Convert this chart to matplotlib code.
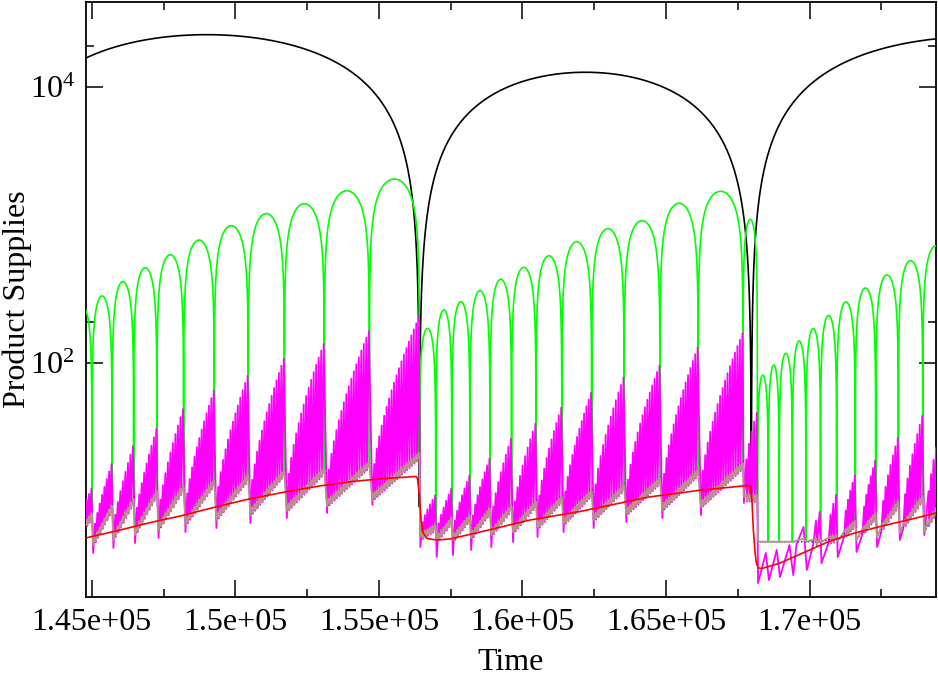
import numpy as np
import matplotlib
matplotlib.use("Agg")
import matplotlib.pyplot as plt
from matplotlib.ticker import FixedLocator, NullFormatter

# ---------------- data ----------------
# black curve: three arches, each given by its two zero-crossing times, its peak
# value, and the lowest value reached at the dip that ends it
black_arch_start_t = [141600, 156410, 167970]
black_arch_end_t = [156410, 167970, 183890]
black_arch_peak_v = [24060, 12850, 23300]
black_dip_floor_v = [9.07, 11.1, 11.1]

# red curve (time, value)
red_t = [144790, 145990, 147120, 148080, 149440, 150510, 151770, 152950, 154090, 155210,
         156290, 156340, 156410, 156470, 156540, 156680, 157010, 157480, 158520, 160260,
         162000, 164380, 166180, 167870, 167940, 167990, 168040, 168100, 168150, 168220,
         168340, 168970, 169840, 170710, 171580, 172450, 173490, 174400]
red_v = [5.41, 6.18, 7.06, 7.80, 9.22, 10.4, 11.7, 12.9, 13.9, 14.6,
         15.1, 14.7, 11.1, 7.30, 5.88, 5.36, 5.23, 5.32, 5.97, 7.30,
         8.41, 10.7, 12.0, 13.0, 12.7, 10.2, 6.18, 4.21, 3.50, 3.28,
         3.25, 3.56, 4.28, 5.14, 5.88, 6.55, 7.36, 8.21]

# green minima times (arch boundaries) and arch peak values
green_dip_t = [144310, 145010, 145710, 146460, 147270, 148200, 149270, 150450, 151710, 153100,
               154670, 156410,
               156980, 157540, 158170, 158870, 159620, 160470, 161370, 162410, 163540, 164790,
               166120, 167680, 168180,
               168560, 168940, 169400, 169870, 170380, 170940, 171590, 172300, 173090, 173940,
               174850]
green_peak_v = [264, 307, 390, 492, 611, 781, 993, 1213, 1432, 1778, 2163,
                179, 243, 279, 336, 406, 495, 601, 760, 944, 1079, 1442, 1762, 1104,
                82, 97, 118, 145, 178, 222, 278, 351, 436, 553, 708]

# per group (between two green minima): magenta last spike, magenta minimum,
# brown level at start and end of group, number of magenta spikes, start of spike train
magenta_peak_v = [12.5, 18.9, 25.5, 33.9, 47.3, 63.9, 82.1, 109, 140, 172, 217,
                  11.1, 12.5, 15.5, 20.6, 28.7, 36.9, 48.1, 61.8, 79.4, 97.0, 131, 166, 43.6,
                  4.21, 4.43, 4.81, 6.50, 8.34, 11.1, 15.5, 19.9, 29.2, 42.1, 58.8]
magenta_trough_v = [4.07, 4.21, 4.58, 4.97, 5.41, 5.97, 6.39, 6.94, 7.55, 8.21, 9.38,
                    4.65, 3.94, 4.07, 4.43, 4.65, 5.06, 5.50, 5.97, 6.39, 7.06, 7.55, 7.94, 9.70,
                    2.55, 2.68, 2.82, 2.91, 3.17, 3.56, 3.94, 4.28, 4.65, 5.23, 5.68]
brown_start_v = [4.81, 4.81, 5.23, 5.68, 6.18, 6.72, 7.30, 7.94, 8.48, 9.22, 10.2,
                 5.50, 5.23, 5.23, 5.41, 5.68, 5.97, 6.39, 6.83, 7.30, 8.07, 8.63, 9.07, 10.7,
                 5.08, 5.08, 5.08, 5.08, 5.08, 5.08, 5.14, 5.23, 5.50, 5.88, 5.97]
brown_end_v = [7.94, 9.07, 10.2, 11.6, 12.7, 13.8, 15.0, 16.3, 16.8, 18.6, 21.6,
               6.50, 7.30, 7.68, 8.63, 9.07, 9.70, 10.5, 11.6, 12.7, 14.2, 16.3, 18.3, 10.5,
               5.08, 5.08, 5.08, 5.08, 5.08, 5.41, 6.94, 7.94, 9.70, 10.7, 12.0]
spike_count = [8, 8, 8, 9, 10, 12, 13, 14, 15, 17, 19,
               6, 6, 7, 8, 8, 9, 10, 12, 12, 14, 15, 17, 5,
               1, 1, 1, 1, 2, 3, 5, 6, 7, 8, 9]
spike_start = [0.06, 0.06, 0.06, 0.06, 0.06, 0.06, 0.06, 0.06, 0.06, 0.06, 0.06,
               0.06, 0.06, 0.06, 0.06, 0.06, 0.06, 0.06, 0.06, 0.06, 0.06, 0.06, 0.06, 0.10,
               0.10, 0.10, 0.10, 0.30, 0.50, 0.50, 0.40, 0.35, 0.25, 0.20, 0.15]

x_ticks = [145000, 150000, 155000, 160000, 165000, 170000]
x_tick_labels = ["1.45e+05", "1.5e+05", "1.55e+05", "1.6e+05", "1.65e+05", "1.7e+05"]
x_minor = [147500, 152500, 157500, 162500, 167500, 172500]
y_ticks = [1e2, 1e4]
y_tick_labels = [r"$10^{2}$", r"$10^{4}$"]
y_minor = [2e2, 2e4]
x_range = (144790, 174400)
y_range = (2.03, 41500)


# ---------------- curve construction ----------------
def build_black():
    ts, vs = [], []
    i = np.arange(401)
    u = -np.cos(np.pi * i / 400.0)
    for k in range(len(black_arch_peak_v)):
        t0, t1 = black_arch_start_t[k], black_arch_end_t[k]
        fl_left = black_dip_floor_v[k - 1] if k > 0 else black_dip_floor_v[0]
        fl = np.where(u < 0, fl_left, black_dip_floor_v[k])
        v = np.maximum(black_arch_peak_v[k] * (1 - u ** 2), fl)
        t = 0.5 * (t0 + t1) + u * 0.5 * (t1 - t0)
        ts.extend(t)
        vs.extend(v)
    return np.array(ts), np.array(vs)


def build_green():
    ts, vs = [], []
    # the green minima reach down to the brown level just before each minimum
    floors = [brown_start_v[0]] + list(brown_end_v)
    i = np.arange(81)
    u = -np.cos(np.pi * i / 80.0)
    shape = np.sqrt(np.clip(1 - u ** 2, 0, None))
    for k, P in enumerate(green_peak_v):
        t0, t1 = green_dip_t[k], green_dip_t[k + 1]
        fl = np.where(u < 0, floors[k], floors[k + 1])
        v = np.maximum(P * shape, fl)
        t = 0.5 * (t0 + t1) + u * 0.5 * (t1 - t0)
        ts.extend(t)
        vs.extend(v)
    return np.array(ts), np.array(vs)


def build_groups():
    mt, mv, bt, bv, ut, uv = [], [], [], [], [], []
    for g in range(len(magenta_peak_v)):
        t0, t1 = green_dip_t[g], green_dip_t[g + 1]
        W = t1 - t0
        n = spike_count[g]
        f = spike_start[g]
        Lbs, Lbe = np.log10(brown_start_v[g]), np.log10(brown_end_v[g])
        Lend = np.log10(magenta_peak_v[g])
        Ltr = np.log10(magenta_trough_v[g])

        def Lb(t):
            return Lbs + (Lbe - Lbs) * (t - t0) / W

        tt0 = t0 + 0.06 * W
        a = t0 + f * W
        p = (t1 - a) / n
        mt.append(tt0); mv.append(Ltr)
        bt.append(tt0); bv.append(Lbs)
        ut.append(tt0); uv.append(Lbs)
        if f > 0.15:
            mt.append(a); mv.append(Lb(a) - 0.02)
        for j in range(n):
            tp = a + p * (j + 0.75)
            s = (j + 1) / n
            Lp = Lb(tp) + (Lend - Lbe) * np.sqrt(s)
            mt.append(tp); mv.append(Lp)
            amp = 0.022 if Lp > Lb(tp) + 0.05 else 0.0
            bt.append(tp); bv.append(Lb(tp) + amp)
            if j < n - 1:
                tq = a + p * (j + 1)
                mt.append(tq); mv.append(Lb(tq) - 0.03)
                bt.append(tq); bv.append(Lb(tq) - amp)
        bt.append(t1); bv.append(Lbe)
        rise = 0.02 if Lbe > Lbs + 0.05 else 0.0
        ut.append(t1); uv.append(Lbe + rise)
    return (np.array(mt), 10 ** np.array(mv), np.array(bt), 10 ** np.array(bv),
            np.array(ut), 10 ** np.array(uv))


# ---------------- figure ----------------
plt.rcParams['font.family'] = ['Liberation Serif', 'DejaVu Serif']
plt.rcParams['mathtext.fontset'] = 'custom'
plt.rcParams['mathtext.rm'] = 'Liberation Serif'
plt.rcParams['mathtext.it'] = 'Liberation Serif:italic'

fig = plt.figure(figsize=(9.38, 6.79), dpi=100)
ax = fig.add_axes([85.7 / 938, 1 - 596.7 / 679, (936 - 85.7) / 938, (596.7 - 2) / 679])
ax.set_yscale('log')

kt, kv = build_black()
gt, gv = build_green()
mt, mv, bt, bv, ut, uv = build_groups()

lw = 1.2
ax.plot(kt, kv, color='black', lw=lw, zorder=2)
ax.plot(gt, gv, color='#00ff00', lw=lw, zorder=3)
ax.plot(mt, mv, color='#ff00ff', lw=1.3, zorder=4)
ax.plot(ut, uv, color='#0000ff', lw=1.0, ls=(0, (1, 1.5)), zorder=5)
ax.plot(bt, bv, color='#bc8f8f', lw=1.4, zorder=6)
ax.plot(red_t, red_v, color='#ff0000', lw=lw, zorder=7)

ax.set_xlim(*x_range)
ax.set_ylim(*y_range)

ax.xaxis.set_major_locator(FixedLocator(x_ticks))
ax.set_xticklabels(x_tick_labels)
ax.xaxis.set_minor_locator(FixedLocator(x_minor))
ax.yaxis.set_major_locator(FixedLocator(y_ticks))
ax.set_yticklabels(y_tick_labels)
ax.yaxis.set_minor_locator(FixedLocator(y_minor))
ax.yaxis.set_minor_formatter(NullFormatter())

ax.tick_params(which='both', direction='in', top=True, right=True, labelsize=23,
               width=1.1, colors='black')
ax.tick_params(which='major', length=12, pad=8)
ax.tick_params(which='minor', length=6)
for sp in ax.spines.values():
    sp.set_linewidth(1.3)

ax.set_xlabel('Time', fontsize=23, labelpad=8)
ax.set_ylabel('Product Supplies', fontsize=23)
ax.yaxis.set_label_coords(-0.063, 0.5)

fig.savefig('out.png', dpi=100)
